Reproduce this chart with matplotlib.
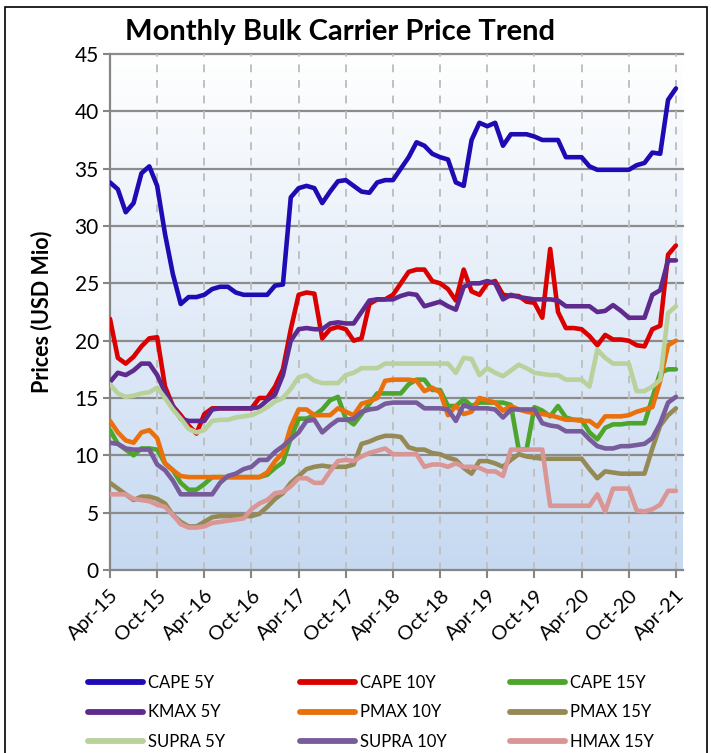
import numpy as np
import matplotlib.pyplot as plt
from matplotlib.colors import LinearSegmentedColormap
from matplotlib.lines import Line2D
from matplotlib.patches import Rectangle

plt.rcParams['font.family'] = ['Lato', 'DejaVu Sans']

# ------------------------------------------------------------
# data: monthly prices, Apr-15 .. Apr-21 (USD Mio)
# ------------------------------------------------------------
tick_labels = ["Apr-15", "Oct-15", "Apr-16", "Oct-16", "Apr-17", "Oct-17", "Apr-18",
               "Oct-18", "Apr-19", "Oct-19", "Apr-20", "Oct-20", "Apr-21"]

cape_5y = [33.8, 33.2, 31.2, 32.0, 34.6, 35.2, 33.5, 29.3, 25.8, 23.2, 23.8, 23.8, 24.0, 24.5,
           24.7, 24.7, 24.2, 24.0, 24.0, 24.0, 24.0, 24.8, 24.9, 32.5, 33.3, 33.5, 33.3, 32.0,
           33.0, 33.9, 34.0, 33.5, 33.0, 32.9, 33.8, 34.0, 34.0, 35.0, 36.0, 37.3, 37.0, 36.3,
           36.0, 35.8, 33.8, 33.5, 37.5, 39.0, 38.7, 39.0, 37.0, 38.0, 38.0, 38.0, 37.8, 37.5,
           37.5, 37.5, 36.0, 36.0, 36.0, 35.2, 34.9, 34.9, 34.9, 34.9, 34.9, 35.3, 35.5, 36.4,
           36.3, 41.0, 42.0]
cape_10y = [21.9, 18.5, 18.0, 18.6, 19.5, 20.2, 20.3, 16.0, 14.3, 13.5, 12.6, 11.9, 13.6, 14.1,
            14.1, 14.1, 14.1, 14.1, 14.1, 15.0, 15.0, 16.0, 17.5, 21.0, 24.0, 24.2, 24.1, 20.2,
            21.0, 21.2, 21.0, 20.0, 20.2, 23.2, 23.6, 23.6, 24.0, 25.0, 26.0, 26.2, 26.2, 25.2,
            25.0, 24.5, 23.5, 26.2, 24.3, 24.0, 25.0, 25.2, 24.0, 23.9, 23.9, 23.4, 23.3, 22.0,
            28.0, 22.5, 21.1, 21.1, 21.0, 20.4, 19.6, 20.5, 20.1, 20.1, 20.0, 19.6, 19.5, 21.0,
            21.3, 27.5, 28.3]
cape_15y = [12.2, 11.0, 10.5, 10.0, 10.6, 10.6, 10.5, 9.3, 8.7, 7.6, 7.0, 7.0, 7.5, 8.1,
            8.1, 8.1, 8.1, 8.1, 8.1, 8.1, 8.3, 8.9, 9.4, 11.5, 13.2, 13.2, 13.5, 14.0,
            14.8, 15.1, 13.2, 12.7, 13.6, 14.5, 15.4, 15.4, 15.4, 15.4, 16.2, 16.6, 16.6, 15.7,
            15.7, 14.3, 14.3, 14.9, 14.3, 14.6, 14.6, 14.6, 14.6, 14.4, 10.5, 10.5, 14.2, 13.9,
            13.4, 14.3, 13.3, 13.1, 13.1, 12.0, 11.4, 12.4, 12.7, 12.7, 12.8, 12.8, 12.8, 15.0,
            17.2, 17.5, 17.5]
kmax_5y = [16.4, 17.2, 17.0, 17.4, 18.0, 18.0, 17.0, 15.5, 14.3, 13.2, 13.0, 13.0, 13.0, 14.0,
           14.1, 14.1, 14.1, 14.1, 14.1, 14.2, 14.8, 15.3, 17.0, 20.0, 21.0, 21.1, 21.0, 21.0,
           21.5, 21.6, 21.5, 21.5, 22.5, 23.5, 23.6, 23.6, 23.6, 23.9, 24.1, 24.0, 23.0, 23.2,
           23.4, 23.0, 22.7, 24.7, 25.0, 25.0, 25.2, 25.0, 23.6, 24.0, 23.8, 23.7, 23.6, 23.6,
           23.6, 23.5, 23.0, 23.0, 23.0, 23.0, 22.5, 22.6, 23.1, 22.6, 22.0, 22.0, 22.0, 24.0,
           24.4, 27.0, 27.0]
pmax_10y = [13.0, 12.0, 11.3, 11.1, 12.0, 12.2, 11.5, 9.3, 8.7, 8.2, 8.1, 8.1, 8.1, 8.1,
            8.1, 8.1, 8.1, 8.1, 8.1, 8.1, 8.5, 9.5, 10.2, 12.5, 14.0, 14.0, 13.5, 13.5,
            13.5, 14.1, 13.8, 13.5, 14.5, 14.7, 15.0, 16.5, 16.6, 16.6, 16.6, 16.5, 15.6, 15.9,
            15.5, 13.5, 14.3, 13.6, 13.8, 15.0, 14.8, 14.6, 13.9, 14.3, 14.0, 13.8, 13.7, 13.6,
            13.5, 13.3, 13.1, 13.1, 13.0, 13.0, 12.5, 13.4, 13.4, 13.4, 13.5, 13.8, 14.0, 14.2,
            16.5, 19.6, 20.0]
pmax_15y = [7.6, 7.1, 6.6, 6.1, 6.4, 6.4, 6.2, 5.8, 4.8, 4.2, 3.8, 3.8, 4.2, 4.6,
            4.7, 4.7, 4.7, 4.7, 4.7, 4.9, 5.5, 6.2, 6.7, 7.6, 8.2, 8.8, 9.0, 9.1,
            9.0, 9.0, 9.0, 9.2, 11.0, 11.2, 11.5, 11.7, 11.7, 11.6, 10.7, 10.5, 10.5, 10.2,
            10.1, 9.8, 9.6, 8.9, 8.4, 9.5, 9.5, 9.3, 9.0, 9.6, 10.1, 9.9, 9.8, 9.7,
            9.7, 9.7, 9.7, 9.7, 9.7, 8.8, 8.0, 8.6, 8.5, 8.4, 8.4, 8.4, 8.4, 10.6,
            12.6, 13.5, 14.1]
supra_5y = [16.2, 15.4, 15.1, 15.2, 15.4, 15.5, 15.9, 15.0, 14.0, 13.2, 12.3, 12.0, 12.2, 13.0,
            13.1, 13.1, 13.3, 13.4, 13.5, 13.8, 14.2, 14.7, 15.0, 15.8, 16.8, 17.0, 16.5, 16.3,
            16.3, 16.3, 17.0, 17.2, 17.6, 17.6, 17.6, 18.0, 18.0, 18.0, 18.0, 18.0, 18.0, 18.0,
            18.0, 18.0, 17.2, 18.5, 18.4, 17.0, 17.6, 17.2, 16.9, 17.4, 17.9, 17.6, 17.2, 17.1,
            17.0, 17.0, 16.6, 16.6, 16.6, 16.0, 19.2, 18.5, 18.0, 18.0, 18.0, 15.6, 15.6, 16.0,
            16.6, 22.4, 23.0]
supra_10y = [11.1, 11.0, 10.6, 10.5, 10.5, 10.5, 9.2, 8.7, 7.8, 6.6, 6.6, 6.6, 6.6, 6.6,
             7.6, 8.2, 8.4, 8.8, 9.0, 9.6, 9.6, 10.3, 10.8, 11.4, 12.0, 13.0, 13.1, 12.0,
             12.6, 13.1, 13.1, 13.2, 13.8, 14.0, 14.1, 14.5, 14.6, 14.6, 14.6, 14.6, 14.1, 14.1,
             14.1, 14.0, 13.0, 14.4, 14.1, 14.1, 14.1, 14.0, 13.3, 14.0, 14.0, 14.0, 14.0, 12.8,
             12.6, 12.5, 12.1, 12.1, 12.1, 11.4, 10.8, 10.6, 10.6, 10.8, 10.8, 10.9, 11.0, 11.5,
             12.8, 14.6, 15.1]
hmax_15y = [6.6, 6.6, 6.6, 6.2, 6.1, 6.0, 5.7, 5.5, 4.8, 4.0, 3.7, 3.7, 3.8, 4.1,
            4.2, 4.3, 4.4, 4.5, 5.3, 5.8, 6.1, 6.7, 6.8, 7.3, 8.0, 8.0, 7.6, 7.6,
            8.6, 9.5, 9.6, 9.5, 9.9, 10.2, 10.4, 10.6, 10.1, 10.1, 10.1, 10.1, 9.0, 9.2,
            9.2, 9.0, 9.3, 9.0, 9.0, 8.9, 8.6, 8.6, 8.2, 10.5, 10.5, 10.5, 10.5, 10.5,
            5.6, 5.6, 5.6, 5.6, 5.6, 5.6, 6.6, 5.1, 7.1, 7.1, 7.1, 5.2, 5.1, 5.3,
            5.7, 6.9, 6.9]

series = [
    ("CAPE 5Y", cape_5y, "#1E0BB4"),
    ("CAPE 10Y", cape_10y, "#DA0000"),
    ("CAPE 15Y", cape_15y, "#4EA52C"),
    ("KMAX 5Y", kmax_5y, "#5E2A8E"),
    ("PMAX 10Y", pmax_10y, "#EA700C"),
    ("PMAX 15Y", pmax_15y, "#958A55"),
    ("SUPRA 5Y", supra_5y, "#B9D19A"),
    ("SUPRA 10Y", supra_10y, "#785B9B"),
    ("HMAX 15Y", hmax_15y, "#D99694"),
]

# ------------------------------------------------------------
# figure
# ------------------------------------------------------------
W, H = 711, 753
fig = plt.figure(figsize=(W / 100, H / 100), dpi=100)
ax = fig.add_axes([110 / W, 1 - 570 / H, 573 / W, 516 / H])

x = np.arange(len(cape_5y))
xmax = 72.9

# gradient background white -> light blue
cmap = LinearSegmentedColormap.from_list("bg", ["#C6D9F1", "#FFFFFF"])
ax.imshow(np.linspace(0, 1, 256).reshape(-1, 1), extent=[0, xmax, 0, 45],
          origin="lower", aspect="auto", cmap=cmap, zorder=0)

for name, vals, col in series:
    ax.plot(x, vals, color=col, lw=3.3, solid_joinstyle="round",
            solid_capstyle="round", zorder=3)

ax.set_xlim(0, xmax)
ax.set_ylim(0, 45)
ax.set_yticks(np.arange(0, 46, 5))
ax.set_xticks(np.arange(0, 73, 6))
ax.set_xticklabels(tick_labels, rotation=45, ha="right", va="top",
                   rotation_mode="anchor", fontsize=14.5)
ax.tick_params(axis="y", labelsize=15, length=5, color="#868686", width=1.5, pad=3)
ax.tick_params(axis="x", length=6, color="#868686", width=1.5, pad=6)

for v in np.arange(5, 46, 5):
    ax.axhline(v, color="#8C8C8C", lw=1.6, zorder=1, clip_on=False)
for t in np.arange(6, 73, 6):
    ax.axvline(t, color="#C0C0C0", lw=1.4, ls=(0, (4, 4)), zorder=1)

for s in ["top", "right"]:
    ax.spines[s].set_visible(False)
for s in ["left", "bottom"]:
    ax.spines[s].set_color("#868686")
    ax.spines[s].set_linewidth(1.6)

ax.set_ylabel("Prices (USD Mio)", fontsize=15.5, fontweight="bold")
ax.yaxis.set_label_coords(-0.1, 0.5)
fig.text(340 / W, 1 - 32 / H, "Monthly Bulk Carrier Price Trend", fontsize=21,
         fontweight="bold", ha="center", va="center")

# legend: three columns placed by hand
col_x = [88, 300, 510]
for c in range(3):
    hs, ls = [], []
    for r in range(3):
        name, vals, col = series[r * 3 + c]
        hs.append(Line2D([], [], color=col, lw=4.2, solid_capstyle="round"))
        ls.append(name)
    fig.legend(hs, ls, loc="upper left", bbox_to_anchor=(col_x[c] / W, 1 - 675 / H),
               frameon=False, fontsize=12, handlelength=3.3, handletextpad=0.3,
               labelspacing=0.8, borderpad=0, borderaxespad=0)

# outer frame
fig.patches.append(Rectangle((5 / W, -0.05), 702 / W, 1.05 - 7 / H, transform=fig.transFigure,
                             fill=False, ec="black", lw=1.2))

plt.savefig("out.png", dpi=100)
plt.close()
